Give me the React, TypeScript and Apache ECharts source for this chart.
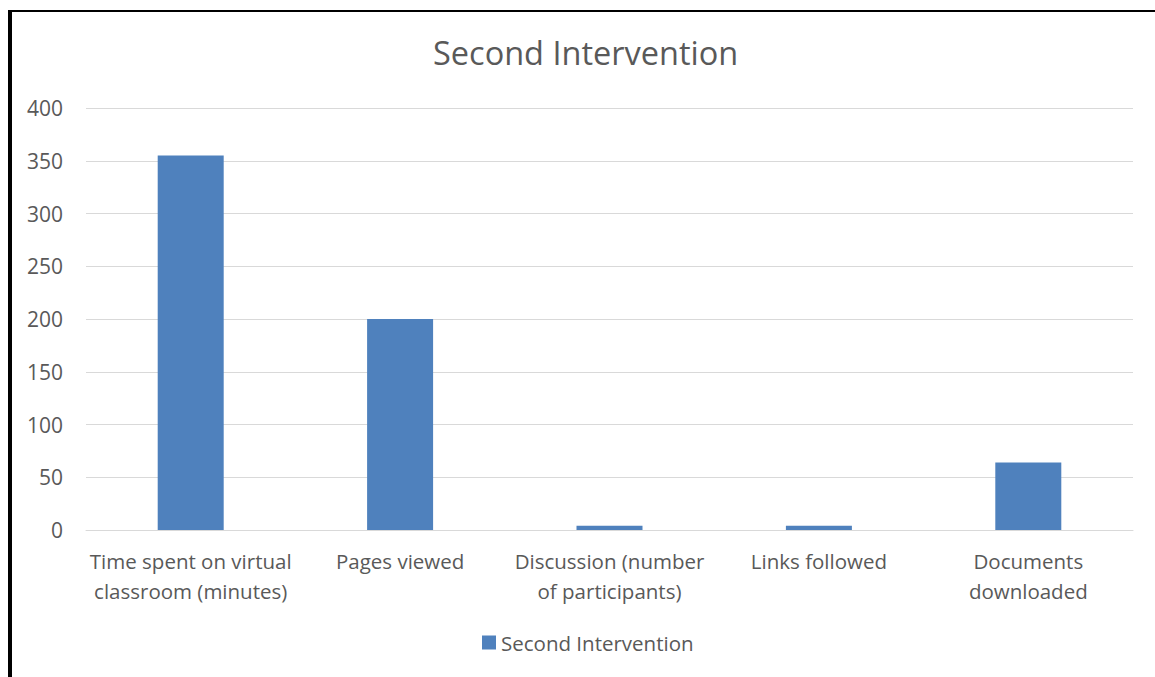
import React, { useEffect, useRef } from "react";
import * as echarts from "echarts";

const categories = [
  "Time spent on virtual\nclassroom (minutes)",
  "Pages viewed",
  "Discussion (number\nof participants)",
  "Links followed",
  "Documents\ndownloaded",
];
const seriesName = "Second Intervention";
const values = [355, 200, 4, 4, 64];
const yMin = 0;
const yMax = 400;
const yInterval = 50;

const FONT = "'Open Sans', 'Noto Sans', sans-serif";
const TEXT = "#595959";
const GRID = "#d9d9d9";

export default function App() {
  const ref = useRef<HTMLDivElement>(null);
  useEffect(() => {
    if (!ref.current) return;
    const chart = echarts.init(ref.current, undefined, { renderer: "svg" });
    chart.setOption({
      animation: false,
      backgroundColor: "#ffffff",
      title: {
        text: seriesName,
        left: 433,
        top: 36,
        padding: 0,
        textStyle: { fontFamily: FONT, fontSize: 32.5, fontWeight: "normal", color: TEXT },
      },
      legend: {
        data: [seriesName],
        bottom: 24,
        left: 482,
        padding: 0,
        icon: "rect",
        itemWidth: 14,
        itemHeight: 14,
        itemGap: 6,
        textStyle: { fontFamily: FONT, fontSize: 20.5, color: TEXT },
      },
      grid: { left: 86, right: 22, top: 108, bottom: 147, containLabel: false },
      xAxis: {
        type: "category",
        data: categories,
        axisLine: { show: true, lineStyle: { color: GRID, width: 1 } },
        axisTick: { show: false },
        axisLabel: {
          interval: 0,
          margin: 16,
          fontFamily: FONT,
          fontSize: 20.5,
          lineHeight: 30,
          color: TEXT,
          align: "center",
        },
      },
      yAxis: {
        type: "value",
        min: yMin,
        max: yMax,
        interval: yInterval,
        axisLine: { show: false },
        axisTick: { show: false },
        splitLine: { lineStyle: { color: GRID, width: 1 } },
        axisLabel: { margin: 23, fontFamily: FONT, fontSize: 21, color: TEXT },
      },
      series: [
        {
          name: seriesName,
          type: "bar",
          data: values,
          barWidth: 66,
          itemStyle: { color: "#4f81bd" },
        },
      ],
      graphic: [
        { type: "rect", shape: { x: 8, y: 10, width: 4, height: 667 }, style: { fill: "#000" } },
        { type: "rect", shape: { x: 8, y: 10, width: 1147, height: 2 }, style: { fill: "#000" } },
      ],
    });
    return () => chart.dispose();
  }, []);
  return (
    <div
      ref={ref}
      style={{ position: "absolute", left: 0, top: 0, width: 1155, height: 677 }}
    />
  );
}
